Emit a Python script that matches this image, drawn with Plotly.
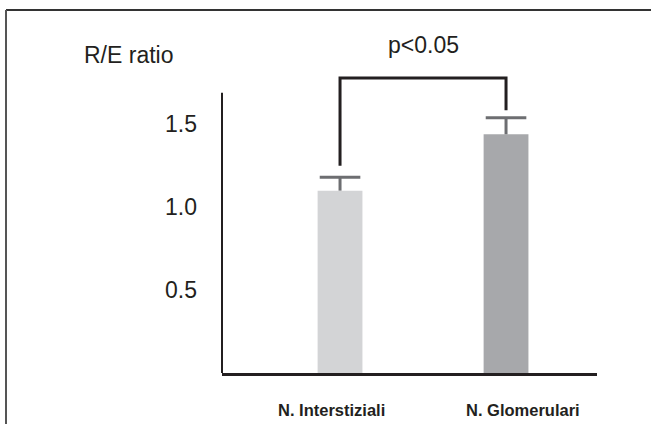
import plotly.graph_objects as go

categories = ["N. Interstiziali", "N. Glomerulari"]
values = [1.10, 1.44]
errors_up = [0.08, 0.10]
bar_colors = ["#d3d4d6", "#a7a8ab"]
tick_vals = [0.5, 1.0, 1.5]
tick_text = ["0.5", "1.0", "1.5"]
y_title = "R/E ratio"
sig_text = "p<0.05"
bracket_top = 1.78
bracket_left_bottom = 1.25
bracket_right_bottom = 1.585
axis_top = 1.69

FONT = "Liberation Sans, Arial, sans-serif"
TXT = "#231f20"
ERR = "#6d6e71"

x_pos = list(range(len(categories)))
err_tops = [v + e for v, e in zip(values, errors_up)]

fig = go.Figure()
fig.add_trace(go.Bar(
    x=x_pos, y=values, width=0.27,
    marker=dict(color=bar_colors, line=dict(width=0)),
    showlegend=False, hoverinfo="skip",
))
# error bars: stem + top cap only
fig.add_trace(go.Scatter(
    x=x_pos, y=err_tops, mode="markers",
    marker=dict(symbol="line-ew", size=29, line=dict(color=ERR, width=3), color=ERR),
    error_y=dict(type="data", symmetric=False, array=[0] * len(values),
                 arrayminus=errors_up, color=ERR, thickness=3, width=0),
    showlegend=False, hoverinfo="skip",
))

shapes = [
    # y axis line
    dict(type="line", xref="paper", yref="y", x0=0, x1=0, y0=0, y1=axis_top,
         line=dict(color=TXT, width=2)),
    # significance bracket
    dict(type="path", xref="x", yref="y",
         path=f"M 0,{bracket_left_bottom} L 0,{bracket_top} L 1,{bracket_top} L 1,{bracket_right_bottom}",
         line=dict(color=TXT, width=3)),
    # outer frame (top and left edges)
    dict(type="line", xref="paper", yref="paper", x0=-0.576, x1=1.3, y0=1.152, y1=1.152,
         line=dict(color="#333333", width=2)),
    dict(type="line", xref="paper", yref="paper", x0=-0.576, x1=-0.576, y0=1.152, y1=-0.3,
         line=dict(color="#555555", width=2)),
]

annotations = [
    dict(text=y_title, xref="paper", yref="paper", x=-0.373, y=1.0095,
         xanchor="left", yanchor="middle", showarrow=False,
         font=dict(family=FONT, size=23, color=TXT)),
    dict(text=sig_text, xref="x", yref="y", x=0.5, y=bracket_top,
         xanchor="center", yanchor="middle", yshift=33, showarrow=False,
         font=dict(family=FONT, size=23, color=TXT)),
    dict(text=categories[0], xref="x", yref="paper", x=0, y=0, yshift=-37, xshift=-9,
         xanchor="center", yanchor="middle", showarrow=False,
         font=dict(family=FONT, size=16.5, color=TXT, weight="bold")),
    dict(text=categories[1], xref="x", yref="paper", x=1, y=0, yshift=-37, xshift=17,
         xanchor="center", yanchor="middle", showarrow=False,
         font=dict(family=FONT, size=16.5, color=TXT, weight="bold")),
]

fig.update_layout(
    width=651, height=424,
    margin=dict(l=222, r=54, t=58, b=51),
    paper_bgcolor="white", plot_bgcolor="white",
    shapes=shapes, annotations=annotations,
    xaxis=dict(range=[-0.711, 1.548], showgrid=False, zeroline=False,
               showticklabels=False, ticks="", showline=True,
               linecolor=TXT, linewidth=3, fixedrange=True),
    yaxis=dict(range=[0, 1.9], showgrid=False, zeroline=False, showline=False,
               tickvals=tick_vals, ticktext=tick_text, ticks="",
               ticklabelstandoff=24,
               tickfont=dict(family=FONT, size=23, color=TXT), fixedrange=True),
)

fig.write_html(
    "out.html",
    config={"displayModeBar": False},
    post_script="document.body.style.margin='0';document.body.style.overflow='hidden';",
)
